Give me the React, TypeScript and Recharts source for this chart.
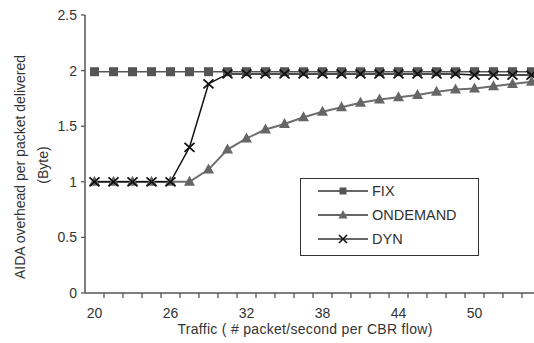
import React from 'react';
import { LineChart, Line, XAxis, YAxis, Legend } from 'recharts';

const categories = [20, 21.5, 23, 24.5, 26, 27.5, 29, 30.5, 32, 33.5, 35, 36.5, 38, 39.5, 41, 42.5, 44, 45.5, 47, 48.5, 50, 51.5, 53, 54.5];
const fixValues = [1.99, 1.99, 1.99, 1.99, 1.99, 1.99, 1.99, 1.99, 1.99, 1.99, 1.99, 1.99, 1.99, 1.99, 1.99, 1.99, 1.99, 1.99, 1.99, 1.99, 1.99, 1.99, 1.99, 1.99];
const onDemandValues = [1, 1, 1, 1, 1, 1.0, 1.11, 1.29, 1.39, 1.47, 1.52, 1.58, 1.63, 1.67, 1.71, 1.74, 1.76, 1.78, 1.81, 1.83, 1.84, 1.86, 1.88, 1.9];
const dynValues = [1, 1, 1, 1, 1, 1.31, 1.88, 1.97, 1.97, 1.97, 1.97, 1.97, 1.97, 1.97, 1.97, 1.97, 1.97, 1.97, 1.97, 1.97, 1.96, 1.96, 1.96, 1.96];
const xLabelTicks = [20, 26, 32, 38, 44, 50];
const yTicks = [0, 0.5, 1, 1.5, 2, 2.5];
const seriesNames = ['FIX', 'ONDEMAND', 'DYN'];

const data = categories.map((c, i) => ({
  x: c,
  FIX: fixValues[i],
  ONDEMAND: onDemandValues[i],
  DYN: dynValues[i],
}));

const halfStep = 0.75;
const minorTicks = categories.map((c) => c + halfStep);
const allXTicks = [...xLabelTicks, ...minorTicks].sort((a, b) => a - b);

const FONT = '"Liberation Sans", Arial, sans-serif';
const TEXT = '#333';
const AXIS = '#555';

const XTick = (props: any) => {
  const { x, y, payload } = props;
  const v = payload.value;
  if (xLabelTicks.includes(v)) {
    return (
      <text x={x} y={y + 25} textAnchor="middle" fontSize={14} fontFamily={FONT} fill={TEXT}>
        {v}
      </text>
    );
  }
  return <line x1={x} x2={x} y1={y} y2={y + 5} stroke={AXIS} strokeWidth={1.3} />;
};

const SquareDot = (props: any) => {
  const { cx, cy, index } = props;
  if (cx == null || cy == null) return <g key={`s${index}`} />;
  return <rect key={`s${index}`} x={cx - 4.5} y={cy - 4.5} width={9} height={9} fill="#555" />;
};

const TriangleDot = (props: any) => {
  const { cx, cy, index } = props;
  if (cx == null || cy == null) return <g key={`t${index}`} />;
  return (
    <polygon
      key={`t${index}`}
      points={`${cx},${cy - 6} ${cx + 5.5},${cy + 4} ${cx - 5.5},${cy + 4}`}
      fill="#666"
    />
  );
};

const CrossDot = (props: any) => {
  const { cx, cy, index } = props;
  if (cx == null || cy == null) return <g key={`c${index}`} />;
  return (
    <g key={`c${index}`}>
      <line x1={cx - 5} y1={cy - 4.5} x2={cx + 5} y2={cy + 4.5} stroke="#111" strokeWidth={1.8} />
      <line x1={cx - 5} y1={cy + 4.5} x2={cx + 5} y2={cy - 4.5} stroke="#111" strokeWidth={1.8} />
    </g>
  );
};

const legendMarker = (name: string, cx: number, cy: number) => {
  if (name === 'FIX') return <rect x={cx - 3.5} y={cy - 3.5} width={7} height={7} fill="#555" />;
  if (name === 'ONDEMAND')
    return <polygon points={`${cx},${cy - 5} ${cx + 4.5},${cy + 3.5} ${cx - 4.5},${cy + 3.5}`} fill="#666" />;
  return (
    <g>
      <line x1={cx - 4} y1={cy - 4} x2={cx + 4} y2={cy + 4} stroke="#111" strokeWidth={1.6} />
      <line x1={cx - 4} y1={cy + 4} x2={cx + 4} y2={cy - 4} stroke="#111" strokeWidth={1.6} />
    </g>
  );
};

const LegendBox = () => (
  <div
    style={{
      width: 179,
      height: 78,
      border: '1.5px solid #333',
      boxSizing: 'border-box',
      background: '#fff',
    }}
  >
    <svg width={176} height={75} style={{ display: 'block' }}>
      {seriesNames.map((name, i) => {
        const cy = 12 + i * 24;
        return (
          <g key={name}>
            <line x1={17} x2={67} y1={cy} y2={cy} stroke="#333" strokeWidth={1.4} />
            {legendMarker(name, 42, cy)}
            <text x={71} y={cy + 5} fontSize={14.5} fontFamily={FONT} fill={TEXT}>
              {name}
            </text>
          </g>
        );
      })}
    </svg>
  </div>
);

const YLabel = () => (
  <g>
    <text
      transform="translate(25,167) rotate(-90)"
      textAnchor="middle"
      fontSize={14}
      fontFamily={FONT}
      fill={TEXT}
    >
      AIDA overhead per packet delivered
    </text>
    <text
      transform="translate(48,165) rotate(-90)"
      textAnchor="middle"
      fontSize={14}
      fontFamily={FONT}
      fill={TEXT}
    >
      (Byte)
    </text>
  </g>
);

const XLabel = () => (
  <text x={305} y={334} textAnchor="middle" fontSize={14} fontFamily={FONT} fill={TEXT} letterSpacing={0.3}>
    Traffic ( # packet/second per CBR flow)
  </text>
);

export default function App() {
  return (
    <div
      style={{
        position: 'fixed',
        left: 0,
        top: 0,
        width: 534,
        height: 343,
        overflow: 'hidden',
        background: '#fff',
      }}
    >
      <LineChart width={560} height={343} data={data} margin={{ top: 15, right: 19, left: 0, bottom: 0 }}>
        <XAxis
          dataKey="x"
          type="number"
          domain={[19.25, 55.25]}
          ticks={allXTicks}
          interval={0}
          tick={<XTick />}
          tickLine={false}
          tickSize={0}
          tickMargin={0}
          height={50}
          axisLine={{ stroke: AXIS, strokeWidth: 1.5 }}
          label={{ content: () => <XLabel /> }}
        />
        <YAxis
          type="number"
          domain={[0, 2.5]}
          ticks={yTicks}
          interval={0}
          width={85}
          tickSize={4}
          tickMargin={4}
          tick={{ fontSize: 14, fontFamily: FONT, fill: TEXT }}
          tickLine={{ stroke: AXIS, strokeWidth: 1.3 }}
          axisLine={{ stroke: AXIS, strokeWidth: 1.5 }}
          label={{ content: () => <YLabel /> }}
        />
        <Legend
          layout="vertical"
          align="center"
          verticalAlign="middle"
          content={() => <LegendBox />}
          wrapperStyle={{ position: 'absolute', left: 300, top: 178, width: 179, height: 78 }}
        />
        <Line
          dataKey="FIX"
          stroke="#555"
          strokeWidth={1.5}
          dot={SquareDot}
          activeDot={false}
          isAnimationActive={false}
        />
        <Line
          dataKey="ONDEMAND"
          stroke="#6e6e6e"
          strokeWidth={2}
          dot={TriangleDot}
          activeDot={false}
          isAnimationActive={false}
        />
        <Line
          dataKey="DYN"
          stroke="#111"
          strokeWidth={1.5}
          dot={CrossDot}
          activeDot={false}
          isAnimationActive={false}
        />
      </LineChart>
    </div>
  );
}
